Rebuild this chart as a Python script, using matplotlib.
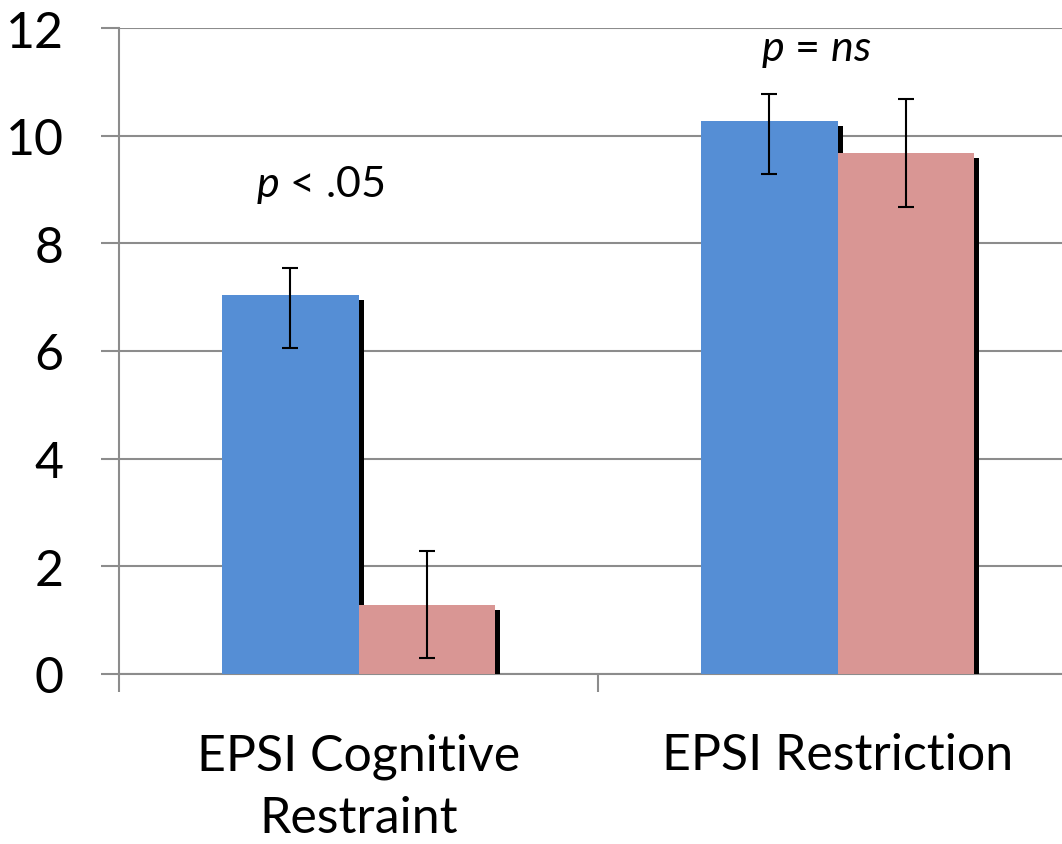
import matplotlib
matplotlib.use('Agg')
import matplotlib.pyplot as plt
from matplotlib.ticker import FixedLocator
import numpy as np

# data
categories = ['EPSI Cognitive\nRestraint', 'EPSI Restriction']
blue_vals = [7.04, 10.27]
blue_err_low = [0.98, 0.98]
blue_err_high = [0.50, 0.50]
pink_vals = [1.28, 9.68]
pink_err_low = [0.99, 1.0]
pink_err_high = [1.0, 1.0]
p_labels = [r'$\it{p}$ < .05', r'$\it{p}$ = $\it{ns}$']
p_ypos = [9.1, 11.6]
p_xoff = [-0.08, -0.045]

plt.rcParams['font.family'] = ['Lato', 'DejaVu Sans']
plt.rcParams['mathtext.fontset'] = 'custom'
plt.rcParams['mathtext.it'] = 'Lato:italic'

W, H = 1062, 845
fig = plt.figure(figsize=(W / 100, H / 100), dpi=100)
ax = fig.add_axes([119 / W, 170 / H, 958 / W, 646 / H])

x = np.arange(len(categories)) + 0.5
bw = 0.286
blue = '#558ED5'
pink = '#D99694'
dx = 5 / 479
dy = 5 / 53.8

# shadows then bars
ax.bar(x - bw / 2 + dx, np.array(blue_vals) - dy, bw, color='black', zorder=2)
ax.bar(x - bw / 2, blue_vals, bw, color=blue, zorder=3)
ax.bar(x + bw / 2 + dx, np.array(pink_vals) - dy, bw, color='black', zorder=4)
ax.bar(x + bw / 2, pink_vals, bw, color=pink, zorder=5)

ax.errorbar(x - bw / 2, blue_vals, yerr=[blue_err_low, blue_err_high], fmt='none',
            ecolor='black', elinewidth=1.5, capsize=6, capthick=1.5, zorder=6)
ax.errorbar(x + bw / 2, pink_vals, yerr=[pink_err_low, pink_err_high], fmt='none',
            ecolor='black', elinewidth=1.5, capsize=6, capthick=1.5, zorder=6)

for xi, lab, yp, xo in zip(x, p_labels, p_ypos, p_xoff):
    ax.text(xi + xo, yp, lab, ha='center', va='center', fontsize=31)

ax.set_xlim(0, 2)
ax.set_ylim(0, 12)
ax.set_yticks(np.arange(0, 13, 2))
ax.tick_params(axis='y', labelsize=36, length=13, width=1.5, color='#8C8C8C', pad=27)
ax.yaxis.grid(True, color='#8C8C8C', linewidth=1.5, zorder=0)
ax.set_axisbelow(True)

ax.xaxis.set_major_locator(FixedLocator([0, 1, 2]))
ax.xaxis.set_minor_locator(FixedLocator(list(x)))
ax.set_xticklabels([])
ax.set_xticklabels(categories, minor=True)
ax.tick_params(axis='x', which='major', length=13, width=1.5, color='#8C8C8C')
ax.tick_params(axis='x', which='minor', length=0, labelsize=36, pad=42)
for t in ax.get_xticklabels(minor=True):
    t.set_linespacing(1.45)

for s in ['top', 'right']:
    ax.spines[s].set_visible(False)
for s in ['left', 'bottom']:
    ax.spines[s].set_color('#8C8C8C')
    ax.spines[s].set_linewidth(1.5)

fig.savefig('out.png', dpi=100)
